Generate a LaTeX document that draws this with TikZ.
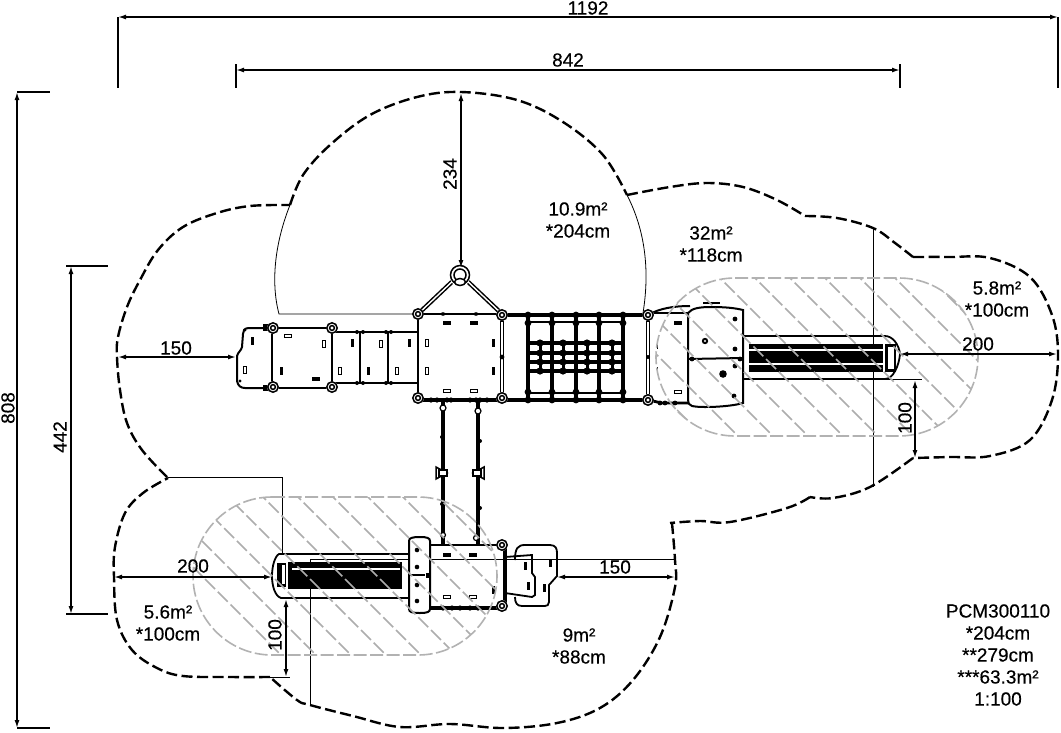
\documentclass[tikz,border=0pt]{standalone}
\usepackage{fontspec}
\setmainfont{Liberation Sans}
\newfontfamily\lblfont{Liberation Sans}[FakeBold=0.35]
\usetikzlibrary{arrows.meta}
\tikzset{
  dim/.style={line width=1.5pt,{Latex[length=8pt,width=5pt]}-{Latex[length=8pt,width=5pt]}},
  ext/.style={line width=1.4pt},
  thin line/.style={line width=0.8pt},
  zone/.style={line width=2.4pt,dash pattern=on 11pt off 4.5pt,smooth,tension=0.6},
  safety/.style={line width=1.6pt,draw=black!30,dash pattern=on 13pt off 3.5pt},
  hatchline/.style={line width=1.7pt,draw=black!32,dash pattern=on 14pt off 4pt},
  label/.style={font=\lblfont\fontsize{19}{19}\selectfont,inner sep=0pt,align=center},
  frame/.style={line width=2pt,line join=round},
  cord/.style={line width=4.4pt,black},
  cordcore/.style={line width=1.4pt,white},
}
\newcommand{\knotring}[2]{%
  \fill[white] (#1,#2) circle (5.8pt);
  \draw[line width=1.5pt] (#1,#2) circle (5.2pt);
  \draw[line width=1.5pt] (#1,#2) circle (2.4pt);}
\newcommand{\blackv}[2]{\fill (#1-1.5,#2-4) rectangle (#1+1.5,#2+4);}
\newcommand{\whitev}[2]{\draw[line width=1.1pt,fill=white] (#1-1.2,#2-3.5) rectangle (#1+1.2,#2+3.5);}
\newcommand{\blackh}[2]{\fill (#1-4,#2-1.6) rectangle (#1+4,#2+1.6);}
\newcommand{\whiteh}[2]{\draw[line width=1.1pt,fill=white] (#1-3.5,#2-1.2) rectangle (#1+3.5,#2+1.2);}
\newcommand{\upperzone}{(735,278) -- (899,278) .. controls (942.6,278) and (978,313.4) .. (978,357) .. controls (978,400.6) and (942.6,436) .. (899,436) -- (735,436) .. controls (691.4,436) and (656,400.6) .. (656,357) .. controls (656,313.4) and (691.4,278) .. (735,278) -- cycle}
\newcommand{\lowerzone}{(272,497) -- (418,497) .. controls (461.6,497) and (497,532.4) .. (497,576) .. controls (497,619.6) and (461.6,655) .. (418,655) -- (272,655) .. controls (228.4,655) and (193,619.6) .. (193,576) .. controls (193,532.4) and (228.4,497) .. (272,497) -- cycle}
\begin{document}
\begin{tikzpicture}[x=1pt,y=-1pt]
\useasboundingbox (0,0) rectangle (1061,732);
\fill[white] (0,0) rectangle (1061,732);

% thin construction lines
\draw[thin line] (290,205) .. controls (276,240) and (270,280) .. (279,314) -- (416,314);
\draw[thin line] (627,195) .. controls (645,230) and (650,270) .. (643,313);
\draw[thin line] (873,228) -- (873,487);
\draw[thin line] (168,477) -- (282,477) -- (282,555);
\draw[thin line] (310,705) -- (310,559) -- (675,559);

% protection zone outline
\draw[zone] plot coordinates {(290,205) (303,175) (330,145) (370,115) (417,97) (461,92) (517,100) (563,122) (603,155) (627,195)};
\draw[zone] plot coordinates {(627,195) (670,187) (707,183) (743,187) (777,200) (805,216)};
\draw[zone] plot coordinates {(805,216) (837,218) (873,228) (895,243) (913,257)};
\draw[zone] plot coordinates {(913,257) (950,257) (990,258) (1030,277) (1052,315) (1058,355) (1052,400) (1030,440) (990,456) (950,457) (913,458)};
\draw[zone] plot coordinates {(913,458) (870,487) (833,498) (810,497)};
\draw[zone] plot coordinates {(810,497) (787,508) (730,522) (700,521) (670,523)};
\draw[zone] plot coordinates {(672,523) (675,560) (675,587) (660,637) (633,680) (600,708) (557,723) (503,728) (450,724) (400,727) (353,716) (310,705) (297,700) (270,677)};
\draw[zone] plot coordinates {(270,677) (230,677) (183,676) (157,668) (132,650) (117,620) (114,577) (115,547) (125,513) (143,493) (168,478)};
\draw[zone] plot coordinates {(167,477) (142,450) (127,423) (120,390) (117,357) (118,337) (127,307) (140,280) (158,250) (183,227) (217,213) (250,206) (290,205)};

% --- structure: left platform
\draw[frame] (269,328) -- (249,328) .. controls (244,328) and (243,331) .. (243,334) -- (242,347) .. controls (241,351) and (238,352) .. (237,356) -- (237,381) .. controls (238,386) and (241,388) .. (245,388) -- (272,388);
\draw[frame] (272,328) -- (272,388);
\draw[frame] (272,328) -- (332,328);
\draw[frame] (272,388) -- (332,388);
\draw[line width=2.6pt] (332,332) -- (418,332);
\draw[line width=2.6pt] (332,383) -- (418,383);
\draw[line width=2pt] (332,328) -- (332,388);
\draw[line width=2.4pt] (360,332) -- (360,383);
\draw[line width=1.2pt] (388,332) -- (388,383);
\draw[line width=2.8pt] (418,314) -- (418,398);
\fill (263,324) rectangle (270,331);
\fill (263,385) rectangle (270,391);
\foreach \x in {357,363,386,391} {\fill (\x,332) circle (2pt); \fill (\x,383) circle (2pt);}
\blackv{252}{341} \whitev{245}{370} \fill (245,330) circle (1.7pt); \fill (240,381) circle (1.7pt);
\whiteh{288}{336} \whitev{324}{344} \blackv{281}{371} \blackh{316}{379}
\blackv{352}{343} \whitev{381}{344} \blackv{409}{343}
\whitev{340}{371} \blackv{368}{371} \whitev{397}{371}

% --- structure: main deck
\draw[line width=2.6pt] (418,314) -- (502,314);
\draw[line width=3.2pt] (418,400) -- (502,400);
\draw[line width=3.6pt] (502,320) -- (502,396);
\draw[line width=1.2pt,white] (502,322) -- (502,394);
\fill (502,357) circle (2.4pt);
\foreach \x in {431,437,447,451,470,476,480,487} {\fill (\x,400) circle (2.6pt);}
\foreach \x in {443,476} {\fill (\x,314) ellipse (2.4pt and 1.8pt);}
\blackh{447}{323} \blackh{474}{323}
\whitev{427}{343} \blackv{493}{343} \whitev{427}{371} \blackv{493}{371}
\whiteh{447}{391} \whiteh{474}{391}
% triangular rope
\draw[cord] (418,314) -- (456,278);
\draw[cord] (502,314) -- (464,278);
\draw[cordcore] (418,314) -- (456,278);
\draw[cordcore] (502,314) -- (464,278);
\fill[white] (460,276) circle (10.5pt);
\draw[line width=1.5pt] (460,275) circle (9.5pt);
\draw[line width=1.5pt] (460,275) circle (6pt);
\draw[line width=1.5pt,fill=white] (460,282) ellipse (5.5pt and 3.5pt);

% --- structure: net section
\draw[line width=3.4pt] (502,315) -- (648,315);
\draw[line width=3.4pt] (502,400) -- (648,400);
\draw[line width=2.6pt] (528,322) -- (623,322);
\draw[line width=2.6pt] (528,393) -- (623,393);
\foreach \x in {528,552,576,599,623} {
  \draw[line width=3.4pt] (\x,315) -- (\x,400);
  \foreach \y in {315,323,392,400} {\fill (\x,\y) circle (3.4pt);}
}
\foreach \y in {343,353,362,371} {
  \draw[line width=4.4pt] (528,\y) -- (623,\y);
  \foreach \x in {540,563,587,612} {\fill (\x,\y) circle (3.6pt);}
}
\foreach \x in {540,563,587,612} {\draw[line width=3pt] (\x,343) -- (\x,371);}
\draw[line width=3.6pt] (648,320) -- (648,396);
\draw[line width=1.2pt,white] (648,322) -- (648,394);
\fill (648,357) circle (2pt);

% --- structure: right deck and slide
\draw[line width=2pt] (648,315) .. controls (660,308) and (675,306) .. (690,306);
\draw[line width=2.8pt] (652,313) -- (688,313);
\draw[line width=2.8pt] (703,303) -- (720,303);
\draw[line width=2.8pt] (648,400) -- (662,403) -- (688,403);
\foreach \x in {660,665,675} {\fill (\x,403) circle (2.4pt);}
\draw[line width=2pt,fill=white] (688,313) .. controls (692,308) and (700,307) .. (712,307) .. controls (725,307) and (735,308) .. (743,310) -- (743,403) .. controls (730,407) and (700,408) .. (692,406) .. controls (689,405) and (688,403) .. (688,400) -- cycle;
\draw[line width=2pt] (688,359) -- (743,358);
\foreach \p/\q in {735/319,735/349,735/366,734/396,692/359,740/359} {\fill (\p,\q) circle (2.4pt);}
\fill (705,341) circle (3.2pt);
\fill[white] (705,341) circle (1.2pt);
\fill (723,374) circle (3.8pt);
\blackh{678}{323}
\whiteh{678}{392}
\fill (657,343) rectangle (658,349);
\fill (657,367) rectangle (658,373);
% slide right
\draw[line width=1.8pt] (743,336) -- (885,336) .. controls (893,336) and (899,345) .. (900,354) .. controls (899,366) and (893,379) .. (885,379) -- (743,379);
\fill (749,344) rectangle (883,372);
\draw[white,line width=1.1pt] (749,350) -- (883,350);
\draw[white,line width=1.1pt] (749,364) -- (883,364);
\fill (885,344) rectangle (896,372);
\fill[white] (888,347) rectangle (894,369);
\draw[thin line] (743,379) -- (922,379);

% --- structure: two ropes to lower unit
\draw[line width=3.6pt] (443,402) -- (443,545);
\draw[line width=3.6pt] (478,402) -- (478,545);
\draw[line width=1.2pt,fill=white] (443,408) circle (3pt);
\draw[line width=1.2pt,fill=white] (478,411) circle (3pt);
\draw[line width=1.2pt,fill=white] (443,535) circle (2.5pt);
\draw[line width=1.2pt,fill=white] (476,538) circle (2.5pt);
\foreach \x/\y in {442/437,442/504,480/441,480/508} {\fill (\x,\y) circle (2pt);}
\draw[line width=1.5pt,fill=white] (436,467) -- (436,479) -- (447,473) -- cycle;
\draw[line width=1.5pt,fill=white] (484,467) -- (484,479) -- (473,473) -- cycle;
\draw[line width=1.7pt,fill=white] (447,470) rectangle (439,476);
\draw[line width=1.7pt,fill=white] (473,470) rectangle (481,476);

% --- structure: lower deck and slide
\draw[line width=2.8pt] (430,545) -- (498,545);
\draw[line width=3.6pt] (430,608) -- (498,608);
\foreach \x in {443,452,460,470,478} {\fill (\x,608) circle (2.6pt);}
\blackh{447}{555} \blackh{473}{555} \whiteh{447}{597} \whiteh{473}{597}
\blackv{493}{590}
\draw[line width=3.6pt] (505,548) -- (505,603);
\draw[line width=2pt,fill=white] (409,541) .. controls (409,538) and (412,537) .. (420,537) .. controls (427,537) and (430,538) .. (430,541) -- (430,609) .. controls (430,612) and (427,613) .. (420,613) .. controls (412,613) and (409,612) .. (409,609) -- cycle;
\draw[line width=2pt] (409,575) -- (425,575);
\draw[line width=5pt] (426,575) -- (430,575);
\foreach \y in {550,567,585,601} {\fill (417,\y) circle (2.3pt);}
\draw[line width=1.8pt] (409,554) -- (279,554) .. controls (275,556) and (272,566) .. (272,576) .. controls (272,586) and (275,596) .. (281,598) -- (409,598);
\fill (288,562) rectangle (402,589);
\draw[white,line width=1.1pt] (292,569) -- (400,569);
\fill (277,563) rectangle (286,587);
\fill[white] (282,565) rectangle (285,584);
% lower step
\draw[line width=1.8pt] (515,560) .. controls (515,548) and (518,545) .. (525,545) -- (550,545) .. controls (556,545) and (557,549) .. (557,553) -- (557,576) -- (549,585) -- (549,602) .. controls (549,605) and (547,606) .. (545,606) -- (522,606) .. controls (517,606) and (515,603) .. (515,597);
\draw[line width=1.8pt] (505,557) -- (532,555) -- (532,573) -- (535,577) -- (535,595) -- (532,597) -- (505,593);
\blackv{525}{566} \blackv{550}{563} \blackv{528}{586} \blackv{544}{588}

% ring fittings
\foreach \x/\y in {273/328,273/387,332/328,332/387,418/314,502/315,418/398,502/398,648/315,648/400,502/545,502/606} {\knotring{\x}{\y}}

% --- safety zones with hatching
\begin{scope}
\clip \upperzone;
\foreach \k in {-6,...,9} {
  \pgfmathsetmacro{\ca}{442+35*\k}
  \draw[hatchline] ({\ca+270},270) -- ({\ca+445},445);
}
\end{scope}
\draw[safety] \upperzone;
\begin{scope}
\clip \lowerzone;
\foreach \k in {-4,...,9} {
  \pgfmathsetmacro{\ca}{-234+35*\k}
  \draw[hatchline] ({\ca+490},490) -- ({\ca+660},660);
}
\end{scope}
\draw[safety] \lowerzone;

% --- dimensions
\coordinate (d1a) at (118,17); \coordinate (d1b) at (1058,17);
\coordinate (d2a) at (236,70); \coordinate (d2b) at (900,70);
\coordinate (d3a) at (17,92);  \coordinate (d3b) at (17,728);
\coordinate (d4a) at (71,266); \coordinate (d4b) at (71,614);
\coordinate (d5a) at (461,93); \coordinate (d5b) at (461,268);
\coordinate (d6a) at (118,357); \coordinate (d6b) at (236,357);
\coordinate (d7a) at (114,577); \coordinate (d7b) at (272,577);
\coordinate (d8a) at (557,577); \coordinate (d8b) at (675,577);
\coordinate (d9a) at (900,354); \coordinate (d9b) at (1057,354);
\coordinate (d10a) at (915,380); \coordinate (d10b) at (915,458);
\coordinate (d11a) at (286,599); \coordinate (d11b) at (286,677);
\draw[ext] (d1a) -- ++(0,71);
\draw[ext] (d1b) -- ++(0,71);
\draw[ext] (d2a) -- ++(0,18);
\draw[ext] (d2a) -- ++(0,-6);
\draw[ext] (d2b) -- ++(0,18);
\draw[ext] (d2b) -- ++(0,-6);
\draw[ext] (d3a) -- ++(33,0);
\draw[ext] (d3b) -- ++(33,0);
\draw[ext] (d4a) -- ++(37,0);
\draw[ext] (d4a) -- ++(-5,0);
\draw[ext] (d4b) -- ++(37,0);
\draw[ext] (d4b) -- ++(-5,0);
\draw[thin line] (270,677) -- (290,677);
\foreach \n in {1,...,11} {\draw[dim] (d\n a) -- (d\n b);}

% --- labels
\node[label] (t1) at (588,8) {1192};
\node[label] (t2) at (568,60) {842};
\node[label,rotate=90] (t3) at (8,408) {808};
\node[label,rotate=90] (t4) at (60,437) {442};
\node[label,rotate=90] (t5) at (450,174) {234};
\node[label] (t6) at (176,348) {150};
\node[label] (t7) at (193,566) {200};
\node[label] (t8) at (615,567) {150};
\node[label] (t9) at (978,344) {200};
\node[label,rotate=90] (t10) at (905,418) {100};
\node[label,rotate=90] (t11) at (275,635) {100};
\node[label] (z1) at (578,220) {10.9m²\\[3pt]*204cm};
\node[label] (z2) at (711,244) {32m²\\[3pt]*118cm};
\node[label] (z3) at (997,299) {5.8m²\\[3pt]*100cm};
\node[label] (z4) at (168,623) {5.6m²\\[3pt]*100cm};
\node[label] (z5) at (579,646) {9m²\\[3pt]*88cm};
\node[label] (info) at (998,655) {PCM300110\\[3pt]*204cm\\[3pt]**279cm\\[3pt]***63.3m²\\[3pt]1:100};
\end{tikzpicture}
\end{document}
